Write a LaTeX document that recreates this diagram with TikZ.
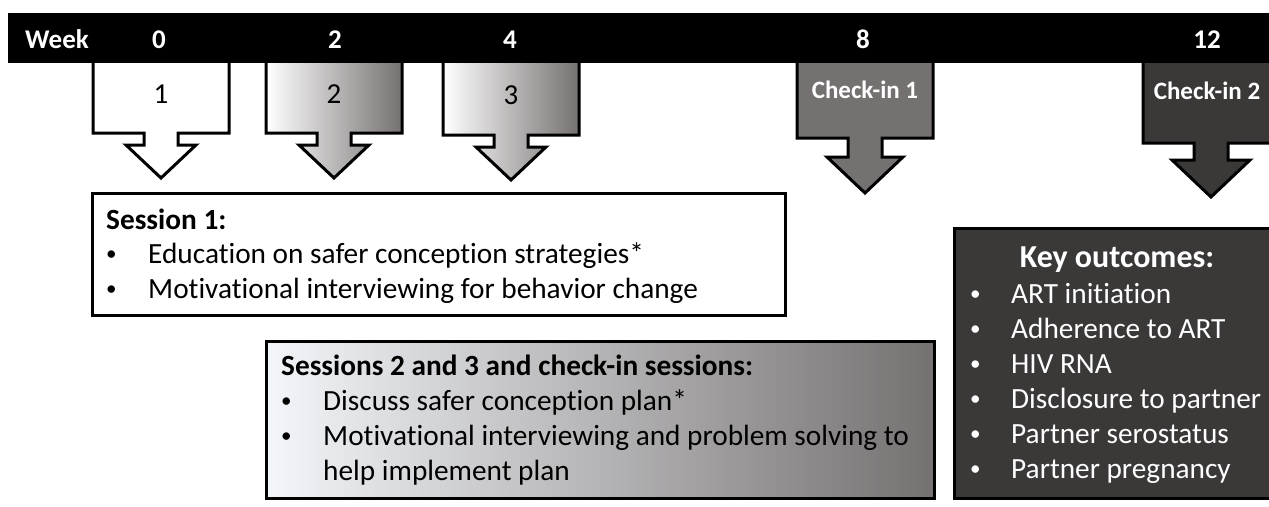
\documentclass[tikz,border=0pt]{standalone}
\usepackage{fontspec}
\setmainfont{Carlito}[Ligatures=NoCommon]
\usepackage{xcolor}
\usepackage{graphicx}
\definecolor{midgrey}{HTML}{767171}
\definecolor{charcoal}{HTML}{3B3838}
\definecolor{paleblue}{HTML}{F3F6FA}

\tikzset{
  outline/.style={draw=black, line width=3pt, line join=miter},
  whitearrow/.style={outline, fill=white},
  shadearrow/.style={outline, left color=white, right color=midgrey},
  midarrow/.style={outline, fill=midgrey},
  darkarrow/.style={outline, fill=charcoal},
  weeklabel/.style={font=\fontsize{27}{32}\selectfont\bfseries, text=white, inner sep=0pt, anchor=base},
  numlabel/.style={font=\fontsize{29}{34}\selectfont, inner sep=0pt, anchor=base},
  checklabel/.style={font=\fontsize{25}{30}\selectfont\bfseries, text=white, inner sep=0pt, anchor=base},
  bodytext/.style={font=\fontsize{29.3}{35}\selectfont, inner sep=0pt, anchor=base west},
  headtext/.style={bodytext, font=\fontsize{29.3}{35}\selectfont\bfseries},
  panel/.style={outline, inner sep=0pt}
}
\newcommand{\bul}[1]{\makebox[#1][l]{\hspace*{2pt}\raisebox{0.1em}{\scalebox{0.72}{\textbullet}}}}

\begin{document}
\begin{tikzpicture}[x=1pt, y=-1pt]
    % Frame
    \useasboundingbox (0,0) rectangle (1269,506);
    \fill[white] (0,0) rectangle (1269,506);
    \clip (0,0) rectangle (1269,506);

    % Down arrows (centre / box bottom / neck bottom / tip / head half width / style)
    \foreach \cx/\bb/\nb/\tip/\hh/\sty in {161/133/145/178/35/whitearrow,
                                           334/133/145/178/35/shadearrow,
                                           511/135/147/180/35/shadearrow,
                                           865/138/157/193/38/midarrow,
                                           1211/143/160/197/39/darkarrow} {
      \draw[\sty] (\cx-68,55) -- (\cx-68,\bb) -- (\cx-17,\bb) -- (\cx-17,\nb)
                  -- (\cx-\hh,\nb) -- (\cx,\tip) -- (\cx+\hh,\nb) -- (\cx+17,\nb)
                  -- (\cx+17,\bb) -- (\cx+68,\bb) -- (\cx+68,55) -- cycle;
    }

    % Timeline bar
    \fill[black] (8,13) rectangle (1290,63);
    \node[weeklabel] (week) at (57,48) {Week};
    \node[weeklabel] (wk0) at (159,48) {0};
    \node[weeklabel] (wk2) at (335,48) {2};
    \node[weeklabel] (wk4) at (510,48) {4};
    \node[weeklabel] (wk8) at (863,48) {8};
    \node[weeklabel] (wk12) at (1207,48) {12};

    % Arrow labels
    \node[numlabel] (arr1) at (161,103) {1};
    \node[numlabel] (arr2) at (334,103) {2};
    \node[numlabel] (arr3) at (511,104) {3};
    \node[checklabel] (chk1) at (865,98) {Check-in 1};
    \node[checklabel] (chk2) at (1207,99) {Check-in 2};

    % Session 1 box
    \node[panel, fill=white, minimum width=693pt, minimum height=122pt] (s1box) at (438.5,254) {};
    \node[headtext] (s1head) at (106,229) {Session 1:};
    \node[bodytext] (s1a) at (104,263) {\bul{44pt}Education on safer conception strategies*};
    \node[bodytext] (s1b) at (104,298) {\bul{44pt}Motivational interviewing for behavior change};

    % Sessions 2, 3 and check-in box
    \node[panel, left color=paleblue, right color=midgrey, minimum width=668pt, minimum height=157pt] (s2box) at (600,419.5) {};
    \node[headtext] (s2head) at (281,375) {Sessions 2 and 3 and check-in sessions:};
    \node[bodytext] (s2a) at (279,410) {\bul{44pt}Discuss safer conception plan*};
    \node[bodytext] (s2b) at (279,445) {\bul{44pt}Motivational interviewing and problem solving to};
    \node[bodytext] (s2c) at (323,480) {help implement plan};

    % Key outcomes box
    \node[panel, fill=charcoal, minimum width=327pt, minimum height=270pt] (kobox) at (1117.5,363) {};
    \node[font=\fontsize{32}{38}\selectfont\bfseries, text=white, inner sep=0pt, anchor=base] (kohead) at (1117,267) {Key outcomes:};
    \foreach \txt [count=\i] in {ART initiation, Adherence to ART, HIV RNA,
                                 Disclosure to partner, Partner serostatus, Partner pregnancy} {
      \node[bodytext, text=white] (ko\i) at (968,268+35*\i) {\bul{43pt}\txt};
    }
\end{tikzpicture}
\end{document}
